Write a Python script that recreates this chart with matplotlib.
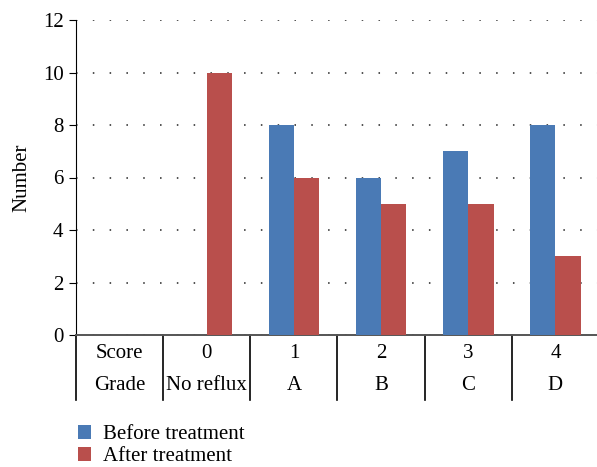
import matplotlib
matplotlib.use("Agg")
import matplotlib.pyplot as plt
import numpy as np

# data
scores = ["0", "1", "2", "3", "4"]
grades = ["No reflux", "A", "B", "C", "D"]
before = [0, 8, 6, 7, 8]
after = [10, 6, 5, 5, 3]

plt.rcParams['font.family'] = ['Liberation Serif', 'DejaVu Serif']
plt.rcParams['font.size'] = 15

W, H = 597, 467
fig = plt.figure(figsize=(W / 100, H / 100), dpi=100)
ax = fig.add_axes([76 / W, (H - 335) / H, (599 - 76) / W, (335 - 20) / H])

x = np.arange(1, len(scores) + 1)  # column 0 holds the row headers
width = 0.29
b1 = ax.bar(x - width / 2, before, width, color='#4a7ab5', label='Before treatment', zorder=3)
b2 = ax.bar(x + width / 2, after, width, color='#b94f4c', label='After treatment', zorder=3)

ax.set_xlim(-0.5, 5.5)
ax.set_ylim(0, 12)
ax.set_yticks(range(0, 13, 2))
ax.set_xticks([])
ax.set_ylabel('Number', labelpad=8)
ax.yaxis.grid(True, linestyle=(0, (1, 10)), color='#222222', linewidth=1.1)
ax.set_axisbelow(True)
for s in ['top', 'right']:
    ax.spines[s].set_visible(False)
ax.spines['left'].set_color('black')
ax.spines['bottom'].set_color('#555555')
ax.spines['bottom'].set_linewidth(1.4)
ax.tick_params(axis='y', direction='out', length=5, pad=4)

# table under the axis
trans = matplotlib.transforms.blended_transform_factory(ax.transData, fig.transFigure)
row1 = ["Score"] + scores
row2 = ["Grade"] + grades
for i in range(len(row1)):
    ax.text(i, 1 - 354 / H, row1[i], transform=trans, ha='center', va='center', clip_on=False)
    ax.text(i, 1 - 386 / H, row2[i], transform=trans, ha='center', va='center', clip_on=False)
for i in range(len(row1)):
    ax.plot([i - 0.5, i - 0.5], [1 - 335 / H, 1 - 400 / H], transform=trans,
            color='black', linewidth=1.2, clip_on=False)

fig.legend(handles=[b1, b2], loc='upper left',
           bbox_to_anchor=(70 / W, 1 - 417 / H), frameon=False,
           handlelength=0.6, handleheight=0.6, handletextpad=0.6,
           labelspacing=0.15, borderaxespad=0)

fig.savefig('out.png', dpi=100)
